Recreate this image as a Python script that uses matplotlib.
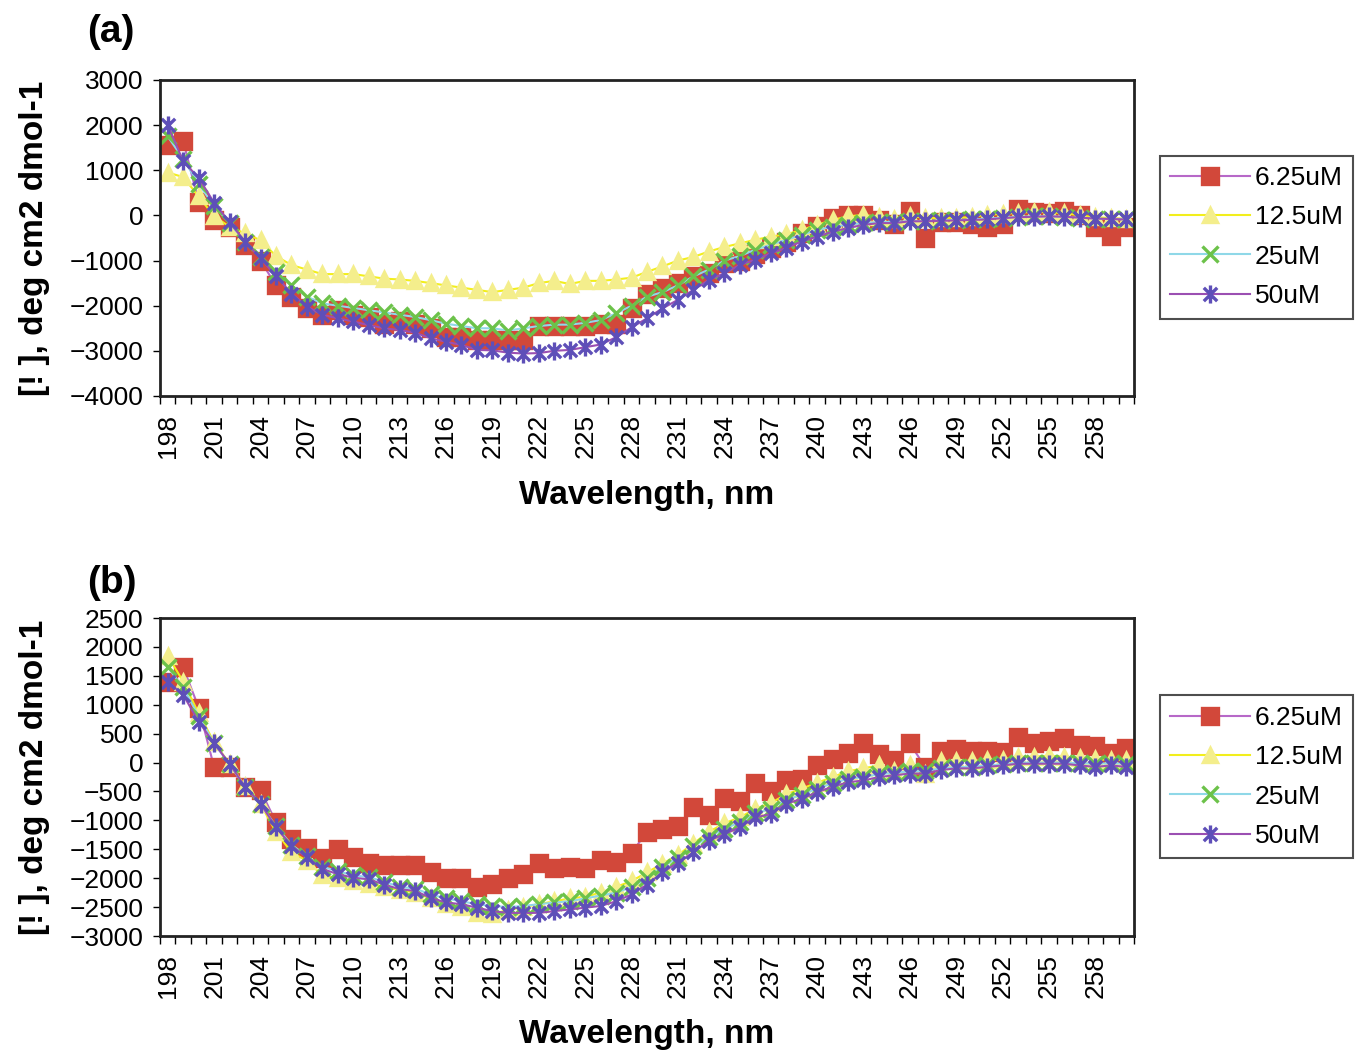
import numpy as np
import matplotlib
matplotlib.use("Agg")
import matplotlib.pyplot as plt
from matplotlib.path import Path

plt.rcParams['font.family'] = ['Liberation Sans', 'DejaVu Sans']

# wavelengths, 1 nm steps (category axis)
wavelengths = list(range(198, 261))

# panel (a) ellipticity values
red_a = [1550, 1650, 300, -100, -250, -650, -1000, -1550, -1800, -2050,
         -2200, -2100, -2200, -2250, -2400, -2350, -2400, -2500, -2700, -2700,
         -2750, -2750, -2750, -2750, -2450, -2450, -2450, -2450, -2400, -2400,
         -2050, -1750, -1600, -1500, -1350, -1280, -1050, -1000, -850, -720,
         -580, -400, -230, -50, 0, 0, -100, -200, 100, -500,
         -150, -150, -200, -250, -200, 150, 80, 60, 100, 0,
         -250, -450, -250]
yellow_a = [950, 850, 420, -20, -250, -400, -550, -900, -1100, -1200,
            -1300, -1300, -1300, -1350, -1400, -1420, -1450, -1500, -1550, -1600,
            -1650, -1700, -1650, -1600, -1500, -1450, -1520, -1450, -1450, -1420,
            -1380, -1250, -1130, -1000, -920, -800, -700, -620, -540, -470,
            -420, -320, -210, -100, -20, 10, -30, -80, -20, -50,
            -60, -50, -40, 20, 30, 60, 80, 70, 50, 0,
            -40, -60, -80]
green_a = [1750, 1250, 700, 200, -170, -580, -920, -1250, -1550, -1800,
           -1950, -2000, -2050, -2100, -2150, -2200, -2250, -2320, -2400, -2450,
           -2500, -2500, -2550, -2500, -2450, -2420, -2420, -2380, -2320, -2170,
           -2000, -1800, -1700, -1550, -1350, -1200, -1000, -900, -760, -650,
           -540, -430, -320, -250, -210, -170, -150, -140, -130, -120,
           -110, -100, -90, -70, -50, -30, -20, -20, -30, -50,
           -70, -80, -90]
purple_a = [2000, 1200, 830, 280, -150, -580, -950, -1340, -1730, -2020,
            -2200, -2280, -2350, -2430, -2500, -2540, -2600, -2720, -2800, -2870,
            -2980, -2990, -3040, -3060, -3050, -3000, -2980, -2920, -2860, -2700,
            -2480, -2280, -2060, -1870, -1650, -1430, -1280, -1100, -980, -840,
            -720, -580, -470, -360, -280, -210, -170, -170, -130, -130,
            -120, -110, -100, -90, -60, -40, -30, -20, -30, -50,
            -70, -80, -90]

# panel (b) ellipticity values
red_b = [1400, 1650, 950, -80, -80, -420, -480, -1030, -1330, -1470,
         -1650, -1500, -1630, -1740, -1780, -1780, -1770, -1900, -2000, -2000,
         -2160, -2100, -2000, -1930, -1740, -1830, -1800, -1830, -1680, -1720,
         -1560, -1200, -1150, -1100, -760, -900, -620, -670, -350, -500,
         -300, -280, -40, 60, 170, 330, 150, 50, 330, -80,
         200, 230, 200, 200, 180, 450, 330, 370, 420, 300,
         280, 170, 250]
yellow_b = [1850, 1400, 850, 350, -20, -400, -720, -1200, -1550, -1700,
            -1950, -2000, -2050, -2100, -2150, -2200, -2250, -2350, -2450, -2500,
            -2600, -2620, -2550, -2500, -2450, -2400, -2350, -2320, -2250, -2150,
            -2050, -1900, -1750, -1600, -1400, -1200, -1050, -950, -800, -700,
            -550, -450, -350, -250, -150, -100, -50, -150, -50, -200,
            20, 30, 30, 40, 50, 100, 100, 120, 100, 80,
            60, 40, 50]
green_b = [1650, 1300, 800, 330, -30, -420, -720, -1100, -1420, -1620,
           -1800, -1880, -1950, -1980, -2060, -2150, -2180, -2280, -2350, -2400,
           -2450, -2480, -2500, -2480, -2450, -2420, -2400, -2350, -2300, -2250,
           -2150, -2000, -1800, -1650, -1450, -1280, -1150, -1030, -880, -800,
           -640, -560, -450, -360, -280, -250, -200, -180, -150, -150,
           -100, -80, -70, -50, -30, 0, 0, 0, 0, -10,
           -20, -10, -20]
purple_b = [1400, 1170, 710, 330, -20, -420, -710, -1120, -1440, -1640,
            -1840, -1930, -1990, -2020, -2110, -2190, -2220, -2340, -2420, -2450,
            -2510, -2570, -2600, -2600, -2600, -2570, -2540, -2510, -2480, -2400,
            -2280, -2110, -1900, -1730, -1550, -1350, -1240, -1120, -950, -890,
            -710, -630, -510, -420, -340, -310, -250, -220, -190, -190,
            -130, -100, -100, -75, -50, -20, -20, -20, -20, -50,
            -75, -50, -75]

labels = ['6.25uM', '12.5uM', '25uM', '50uM']

# excel style asterisk: an x with a vertical bar through it
asterisk = Path([(-1, -1), (1, 1), (-1, 1), (1, -1), (0, -1.35), (0, 1.35)],
                [Path.MOVETO, Path.LINETO, Path.MOVETO, Path.LINETO, Path.MOVETO, Path.LINETO])

# (line colour, marker, marker face, marker edge, marker size)
styles = [
    ('#b768c8', 's', '#d2483a', '#d2483a', 11.5),
    ('#f2ee1c', '^', '#f4ee8c', '#f4ee8c', 10.5),
    ('#8fd8e8', 'x', 'none', '#6cc24a', 11),
    ('#9b4fb2', asterisk, 'none', '#5e4fb8', 13),
]

x = np.arange(len(wavelengths))


def draw_panel(ax, series, yticks, legend_y, letter, letter_y, xlabel_y):
    for vals, lab, (lc, mk, mfc, mec, ms) in zip(series, labels, styles):
        ax.plot(x, vals, color=lc, lw=1.5, marker=mk, markersize=ms,
                markerfacecolor=mfc, markeredgecolor=mec, markeredgewidth=2.4,
                label=lab)
    ax.set_xlim(-0.5, len(wavelengths) - 0.5)
    ax.set_ylim(yticks[0], yticks[-1])
    ax.set_yticks(yticks)
    ax.tick_params(axis='y', direction='out', length=5, width=1, pad=7, labelsize=19)
    # labelled ticks every 3 nm, tick marks between every category
    ax.set_xticks(x[::3])
    ax.set_xticklabels([str(w) for w in wavelengths[::3]], rotation=90)
    ax.set_xticks(np.arange(-0.5, len(wavelengths)), minor=True)
    ax.tick_params(axis='x', which='major', length=0, pad=13, labelsize=19)
    ax.tick_params(axis='x', which='minor', direction='out', length=6, width=1)
    for sp in ax.spines.values():
        sp.set_linewidth(2)
        sp.set_color('#222222')
    ax.set_xlabel('Wavelength, nm', fontsize=24, fontweight='bold')
    ax.xaxis.set_label_coords(0.5, xlabel_y)
    ax.set_ylabel('[! ], deg cm2 dmol-1', fontsize=24, fontweight='bold')
    ax.yaxis.set_label_coords(-0.113, 0.5)
    leg = ax.legend(loc='center left', bbox_to_anchor=(0.851, legend_y),
                    bbox_transform=fig.transFigure, fontsize=19, frameon=True,
                    fancybox=False, edgecolor='#222222', handlelength=3,
                    handletextpad=0.2, labelspacing=0.58, borderpad=0.4,
                    borderaxespad=0, numpoints=1)
    leg.get_frame().set_linewidth(1.5)
    fig.text(87 / 1363, letter_y, letter, fontsize=28, fontweight='bold', va='baseline')


fig = plt.figure(figsize=(13.63, 10.61), dpi=100)
ax_a = fig.add_axes([0.1174, 0.6268, 0.7146, 0.2978])
ax_b = fig.add_axes([0.1174, 0.1178, 0.7146, 0.2997])

draw_panel(ax_a, [red_a, yellow_a, green_a, purple_a], list(range(-4000, 3001, 1000)),
           0.7766, '(a)', 1 - 42 / 1061, -0.266)
draw_panel(ax_b, [red_b, yellow_b, green_b, purple_b], list(range(-3000, 2501, 500)),
           0.2677, '(b)', 1 - 593 / 1061, -0.261)

fig.savefig('out.png', dpi=100)
